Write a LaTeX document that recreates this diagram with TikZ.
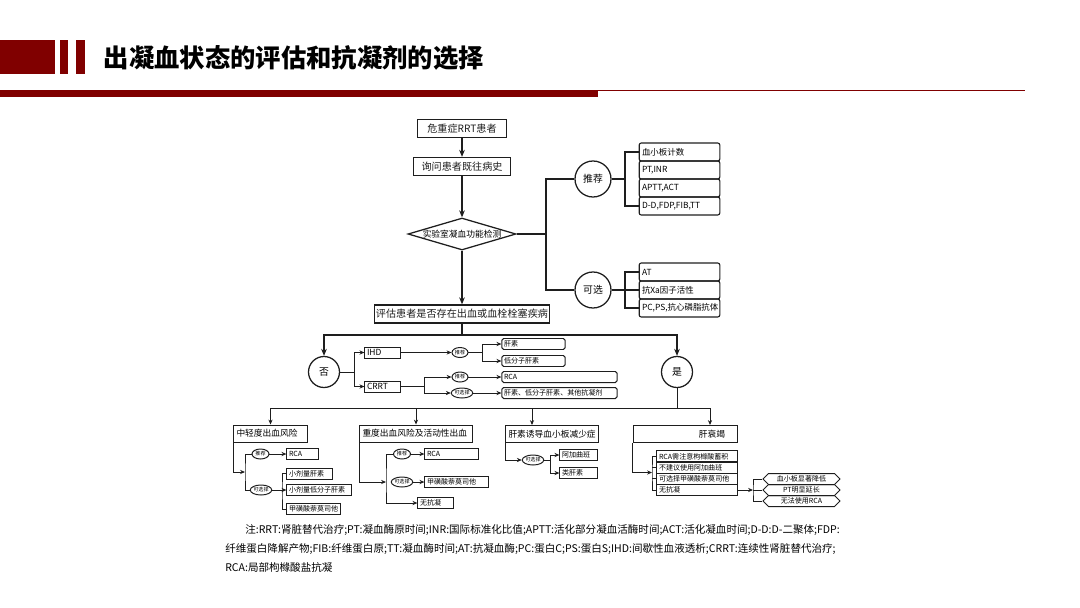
\documentclass[tikz,border=0pt]{standalone}
\usepackage{fontspec}
\setmainfont{Noto Sans CJK SC}
\usetikzlibrary{shapes.geometric, shapes.symbols, arrows.meta, positioning, calc}
\definecolor{title_red}{RGB}{128, 0, 0}
\definecolor{ink}{RGB}{30, 30, 30}
\newdimen\pxu \pxu=0.025cm
\def \TJ {推荐}
\def \KXZ {可选择}

\begin{document}
\begin{tikzpicture}[
    x=0.025cm, y=-0.025cm,
    flowbox/.style={
        rectangle,
        draw=ink,
        line width=0.9pt,
        minimum height=18\pxu,
        inner sep=1pt,
        text=ink,
        font=\fontsize{7.2}{8}\selectfont
    },
    labbox/.style={
        diamond,
        draw=ink,
        line width=0.9pt,
        aspect=3.3,
        inner sep=0pt,
        minimum width=108\pxu,
        minimum height=32\pxu,
        font=\fontsize{6.2}{7}\selectfont
    },
    pick/.style={
        circle,
        draw=ink,
        line width=0.9pt,
        minimum size=#1\pxu,
        inner sep=0pt,
        font=\fontsize{7}{8}\selectfont
    },
    listitem/.style={
        rectangle,
        rounded corners=1.5pt,
        draw=ink,
        line width=0.8pt,
        minimum height=18\pxu,
        text width=75\pxu,
        inner xsep=2pt,
        inner ysep=0pt,
        align=left,
        font=\fontsize{6}{7}\selectfont
    },
    sbox/.style={
        rectangle,
        draw=ink,
        line width=0.7pt,
        minimum height=11\pxu,
        text width=#1\pxu,
        inner xsep=1.5pt,
        inner ysep=0pt,
        align=left,
        font=\fontsize{5}{6}\selectfont
    },
    rsbox/.style={
        sbox=#1,
        rounded corners=1.2pt
    },
    capsule/.style={
        ellipse,
        draw=ink,
        line width=0.7pt,
        minimum width=#1\pxu,
        minimum height=10\pxu,
        inner sep=0pt,
        font=\fontsize{3.6}{4}\selectfont
    },
    grouphead/.style={
        rectangle,
        draw=ink,
        line width=0.7pt,
        minimum height=17\pxu,
        text width=#1\pxu,
        inner xsep=2pt,
        inner ysep=0pt,
        align=left,
        font=\fontsize{6.2}{7}\selectfont
    },
    outcome/.style={
        signal,
        signal to=west and east,
        draw=ink,
        line width=0.7pt,
        minimum width=77\pxu,
        minimum height=11\pxu,
        inner sep=0pt,
        font=\fontsize{5}{6}\selectfont
    },
    wire/.style={draw=ink, line width=0.9pt},
    wireS/.style={draw=ink, line width=0.7pt},
    arrow/.style={-{Stealth[length=5pt, width=4pt]}, draw=ink, line width=0.9pt},
    arrowS/.style={-{Stealth[length=3.5pt, width=3pt]}, draw=ink, line width=0.7pt}
]
\useasboundingbox (0,0) rectangle (1080,607);

% Header
\fill[title_red] (0,40) rectangle (55,74);
\fill[title_red] (60,40) rectangle (68,74);
\fill[title_red] (76,40) rectangle (85,74);
\node[anchor=west, font=\bfseries\fontsize{18}{20}\selectfont] (title) at (99,58) {出凝血状态的评估和抗凝剂的选择};
\fill[title_red] (0,90) rectangle (598,97);
\draw[title_red, line width=0.6pt] (598,90.5) -- (1025,90.5);

% Main flow
\node[flowbox, minimum width=89\pxu] (patient) at (462,128.5) {危重症RRT患者};
\node[flowbox, minimum width=97\pxu] (history) at (462,166.5) {询问患者既往病史};
\node[labbox] (labtest) at (462,234) {实验室凝血功能检测};
\node[flowbox, minimum width=172\pxu] (assess) at (462,314) {评估患者是否存在出血或血栓栓塞疾病};

\draw[arrow] (patient) -- (history);
\draw[arrow] (history) -- (labtest);
\draw[arrow] (labtest) -- (assess);

% Lab tests
\node[pick=36] (recom) at (593,179) {推荐};
\node[pick=36] (option) at (593,290) {可选};
\coordinate (fork) at (546,234);
\draw[wire] (labtest.east) -- (fork);
\draw[wire] (recom.west) -| (fork) |- (option.west);

\node[listitem] (plt) at (679.5,152) {血小板计数};
\node[listitem] (pt) at (679.5,170) {PT,INR};
\node[listitem] (aptt) at (679.5,188) {APTT,ACT};
\node[listitem] (dd) at (679.5,206) {D-D,FDP,FIB,TT};
\coordinate (recbr) at (625,179);
\draw[wire] (recom.east) -- (recbr);
\draw[wire] (plt.west) -| (recbr) |- (dd.west);

\node[listitem] (at) at (679.5,272) {AT};
\node[listitem] (xa) at (679.5,290) {抗Xa因子活性};
\node[listitem] (pcps) at (679.5,308) {PC,PS,抗心磷脂抗体};
\coordinate (optbr) at (625,290);
\draw[wire] (option.east) -- (xa.west);
\draw[wire] (at.west) -| (optbr) |- (pcps.west);

% Bleeding or not
\coordinate (hub) at (462,335);
\node[pick=31] (no) at (324,372) {否};
\node[pick=31] (yes) at (677,372) {是};
\draw[wire] (assess.south) -- (hub);
\draw[arrow] (hub) -| (no.north);
\draw[arrow] (hub) -| (yes.north);

\node[sbox=31, font=\fontsize{6}{7}\selectfont] (ihd) at (382.5,352.5) {IHD};
\node[sbox=31, font=\fontsize{6}{7}\selectfont] (crrt) at (382.5,386.5) {CRRT};
\coordinate (nofork) at (354,372);
\draw[wireS] (no.east) -- (nofork);
\draw[arrowS] (nofork) |- (ihd.west);
\draw[arrowS] (nofork) |- (crrt.west);

\node[capsule=16] (ihdrec) at (460,352.5) {\TJ};
\node[rsbox=59] (hep) at (533.5,344) {肝素};
\node[rsbox=59] (lmwh) at (533.5,361) {低分子肝素};
\coordinate (ihdfork) at (482,352.5);
\draw[arrowS] (ihd.east) -- (ihdrec.west);
\draw[wireS] (ihdrec.east) -- (ihdfork);
\draw[arrowS] (ihdfork) |- (hep.west);
\draw[arrowS] (ihdfork) |- (lmwh.west);

\node[capsule=16] (crrtrec) at (460,377) {\TJ};
\node[capsule=20] (crrtopt) at (462,393) {\KXZ};
\node[rsbox=111] (crrtrca) at (559.5,377) {RCA};
\node[rsbox=111] (crrtall) at (559.5,393) {肝素、低分子肝素、其他抗凝剂};
\coordinate (crrtfork) at (424,386.5);
\draw[wireS] (crrt.east) -- (crrtfork);
\draw[arrowS] (crrtfork) |- (crrtrec.west);
\draw[arrowS] (crrtfork) |- (crrtopt.west);
\draw[arrowS] (crrtrec.east) -- (crrtrca.west);
\draw[arrowS] (crrtopt.east) -- (crrtall.west);

% Bleeding groups
\node[grouphead=68] (mild) at (270.5,433.5) {中轻度出血风险};
\node[grouphead=107] (severe) at (416,433.5) {重度出血风险及活动性出血};
\node[grouphead=87] (hit) at (552,434) {肝素诱导血小板减少症};
\node[grouphead=80, align=right, minimum width=104\pxu] (liver) at (685,434) {肝衰竭};
\coordinate (bus) at (677,408);
\draw[wireS] (yes.south) -- (bus);
\draw[arrowS] (bus) -| (mild.north);
\draw[arrowS] (bus) -| (severe.north);
\draw[arrowS] (bus) -| ([xshift=-0.5cm]hit.north);
\draw[arrowS] (bus) -| ([xshift=0.625cm]liver.north);

% Mild risk
\node[capsule=17] (mildrec) at (260.5,454) {\TJ};
\node[capsule=18] (mildopt) at (261,490) {\KXZ};
\node[sbox=27] (mildrca) at (302.5,454) {RCA};
\node[sbox=41] (lowhep) at (309.5,473.5) {小剂量肝素};
\node[sbox=60] (lowlmwh) at (319,490) {小剂量低分子肝素};
\node[sbox=49] (mildnafa) at (313.5,509) {甲磺酸萘莫司他};
\coordinate (mildbr) at (245,472);
\coordinate (mildbr2) at (282,490);
\draw[arrowS] (mild.south west) |- (mildbr);
\draw[wireS] (mildrec.west) -| (mildbr) |- (mildopt.west);
\draw[arrowS] (mildrec.east) -- (mildrca.west);
\draw[arrowS] (mildopt.east) -- (lowlmwh.west);
\draw[wireS] (lowhep.west) -| (mildbr2) |- (mildnafa.west);

% Severe risk
\node[capsule=17] (sevrec) at (402,454) {\TJ};
\node[capsule=20] (sevopt) at (402,482) {\KXZ};
\node[sbox=49] (sevrca) at (451.5,454) {RCA};
\node[sbox=59] (sevnafa) at (456.5,482) {甲磺酸萘莫司他};
\node[sbox=31] (sevnone) at (435.5,503) {无抗凝};
\coordinate (sevbr) at (386,482);
\draw[arrowS] (severe.south west) |- (sevbr);
\draw[arrowS] (sevrec.west) -| (sevbr) |- (sevnone.west);
\draw[arrowS] (sevrec.east) -- (sevrca.west);
\draw[arrowS] (sevopt.east) -- (sevnafa.west);

% HIT
\node[capsule=20] (hitopt) at (533,460) {\KXZ};
\node[sbox=33] (arga) at (578.5,455) {阿加曲班};
\node[sbox=33] (heparinoid) at (578.5,473) {类肝素};
\coordinate (hitbr) at (550,460);
\draw[arrowS] (hit.south west) |- (hitopt.west);
\draw[wireS] (hitopt.east) -- (hitbr);
\draw[arrowS] (hitbr) |- (arga.west);
\draw[arrowS] (hitbr) |- (heparinoid.west);

% Liver failure
\node[sbox=76] (lv1) at (697,456.4) {RCA需注意枸橼酸蓄积};
\node[sbox=76] (lv2) at (697,467.6) {不建议使用阿加曲班};
\node[sbox=76] (lv3) at (697,478.8) {可选择甲磺酸萘莫司他};
\node[sbox=76] (lv4) at (697,490) {无抗凝};
\coordinate (liverbr) at (652,472.5);
\draw[arrowS] (liver.south west) |- (liverbr);
\draw[wireS] (lv1.west) -| (liverbr) |- (lv4.west);
\draw[wireS] (liverbr |- lv2.west) -- (lv2.west);
\draw[wireS] (liverbr |- lv3.west) -- (lv3.west);

\node[outcome] (lowplt) at (801.5,479) {血小板显著降低};
\node[outcome] (ptlong) at (801.5,490) {PT明显延长};
\node[outcome] (norca) at (801.5,501) {无法使用RCA};
\coordinate (tagbr) at (753,490);
\draw[arrowS] (lv4.east) -- (tagbr);
\draw[wireS] (lowplt.west) -| (tagbr) |- (norca.west);
\draw[wireS] (tagbr) -- (ptlong.west);

% Notes
\node[anchor=west, inner sep=0pt, font=\fontsize{7.5}{9}\selectfont] (note1) at (245,530) {注:RRT:肾脏替代治疗;PT:凝血酶原时间;INR:国际标准化比值;APTT:活化部分凝血活酶时间;ACT:活化凝血时间;D-D:D-二聚体;FDP:};
\node[anchor=west, inner sep=0pt, font=\fontsize{7.5}{9}\selectfont] (note2) at (225,549) {纤维蛋白降解产物;FIB:纤维蛋白原;TT:凝血酶时间;AT:抗凝血酶;PC:蛋白C;PS:蛋白S;IHD:间歇性血液透析;CRRT:连续性肾脏替代治疗;};
\node[anchor=west, inner sep=0pt, font=\fontsize{7.5}{9}\selectfont] (note3) at (225,567) {RCA:局部枸橼酸盐抗凝};

\end{tikzpicture}
\end{document}
